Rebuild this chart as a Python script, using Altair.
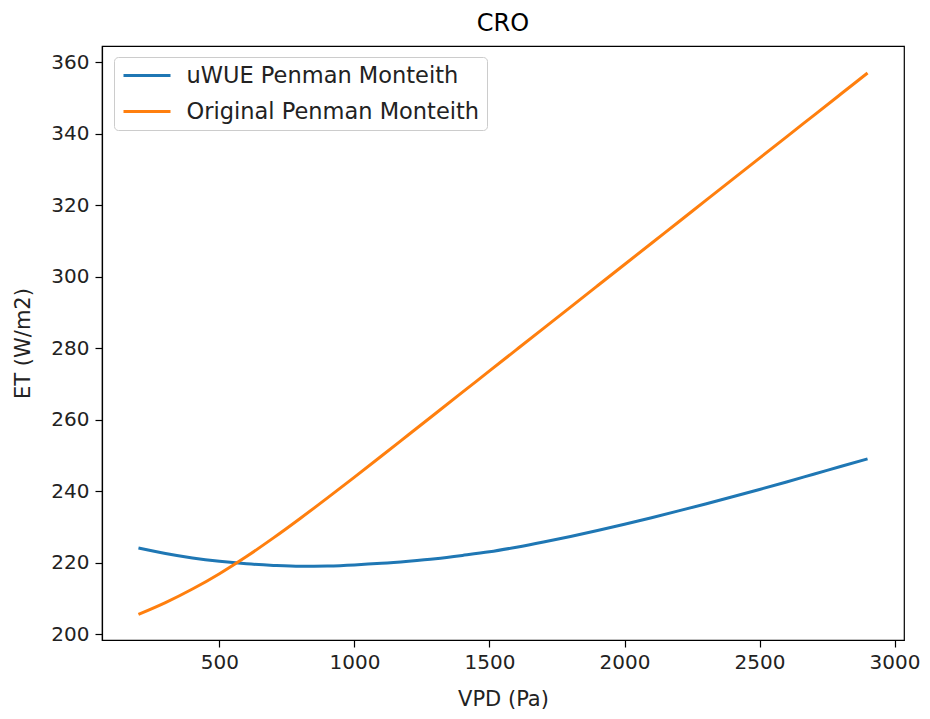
import altair as alt
import pandas as pd

# VPD values (Pa)
vpd = [200, 300, 400, 500, 600, 700, 800, 900, 1000, 1100, 1200, 1300, 1400,
       1500, 1600, 1700, 1800, 1900, 2000, 2100, 2200, 2300, 2400, 2500, 2600,
       2700, 2800, 2900]

# uWUE Penman Monteith ET (W/m2)
et_uwue = [224.2, 222.65, 221.4, 220.45, 219.75, 219.3, 219.05, 219.15, 219.45, 219.9,
           220.5, 221.2, 222.1, 223.1, 224.4, 225.85, 227.4, 229.05, 230.8, 232.65,
           234.55, 236.5, 238.5, 240.55, 242.65, 244.8, 246.95, 249.1]

# Original Penman Monteith ET (W/m2)
et_orig = [205.6, 208.9, 212.7, 217.0, 221.8, 227.0, 232.5, 238.2, 244.0, 249.9,
           255.85, 261.8, 267.75, 273.7, 279.65, 285.6, 291.55, 297.5, 303.45, 309.4,
           315.35, 321.3, 327.25, 333.2, 339.15, 345.1, 351.05, 357.0]

series_names = ["uWUE Penman Monteith", "Original Penman Monteith"]
series_colors = ["#1f77b4", "#ff7f0e"]

x_ticks = [500, 1000, 1500, 2000, 2500, 3000]
y_ticks = [200, 220, 240, 260, 280, 300, 320, 340, 360]

rows = []
for name, vals in zip(series_names, [et_uwue, et_orig]):
    for i, (x, y) in enumerate(zip(vpd, vals)):
        rows.append({"VPD": x, "ET": y, "series": name, "order": i})
df = pd.DataFrame(rows)

FONT = "DejaVu Sans"

chart = alt.Chart(df).mark_line(strokeWidth=3, interpolate="monotone").encode(
    x=alt.X("VPD:Q",
            scale=alt.Scale(domain=[65, 3035], nice=False, zero=False),
            axis=alt.Axis(title="VPD (Pa)", values=x_ticks, format="d", grid=False,
                          tickSize=7, labelPadding=5, titlePadding=16,
                          labelFlush=False)),
    y=alt.Y("ET:Q",
            scale=alt.Scale(domain=[198.45, 364.55], nice=False, zero=False),
            axis=alt.Axis(title="ET (W/m2)", values=y_ticks, format="d", grid=False,
                          tickSize=7, labelPadding=6, titlePadding=17,
                          labelFlush=False)),
    color=alt.Color("series:N",
                    scale=alt.Scale(domain=series_names, range=series_colors),
                    legend=alt.Legend(title=None, orient="none",
                                      legendX=12, legendY=11,
                                      symbolType="M-2.35,0H2.35",
                                      symbolSize=400,
                                      symbolStrokeWidth=3,
                                      symbolOffset=14.5,
                                      labelOffset=28,
                                      labelFontSize=22.5,
                                      labelFont=FONT,
                                      labelColor="#222222",
                                      labelLimit=0,
                                      rowPadding=13,
                                      padding=7,
                                      fillColor="rgba(255,255,255,0.8)",
                                      strokeColor="#cccccc",
                                      cornerRadius=4)),
    order="order:Q",
).properties(
    width=802,
    height=594,
    title=alt.TitleParams("CRO", fontSize=24, fontWeight="normal", font=FONT,
                          color="#000000", offset=10, frame="group",
                          anchor="middle"),
    autosize=alt.AutoSizeParams(type="none"),
    padding={"left": 94, "top": 38, "right": 18, "bottom": 71},
).configure_view(
    stroke="#000000", strokeWidth=1.2
).configure_axis(
    domainColor="#000000", domainWidth=1.2,
    tickColor="#000000", tickWidth=1.2,
    labelFont=FONT, labelFontSize=20, labelColor="#222222",
    titleFont=FONT, titleFontSize=21, titleFontWeight="normal", titleColor="#222222",
)

chart.save("out.html", embed_options={"renderer": "svg", "actions": False})
